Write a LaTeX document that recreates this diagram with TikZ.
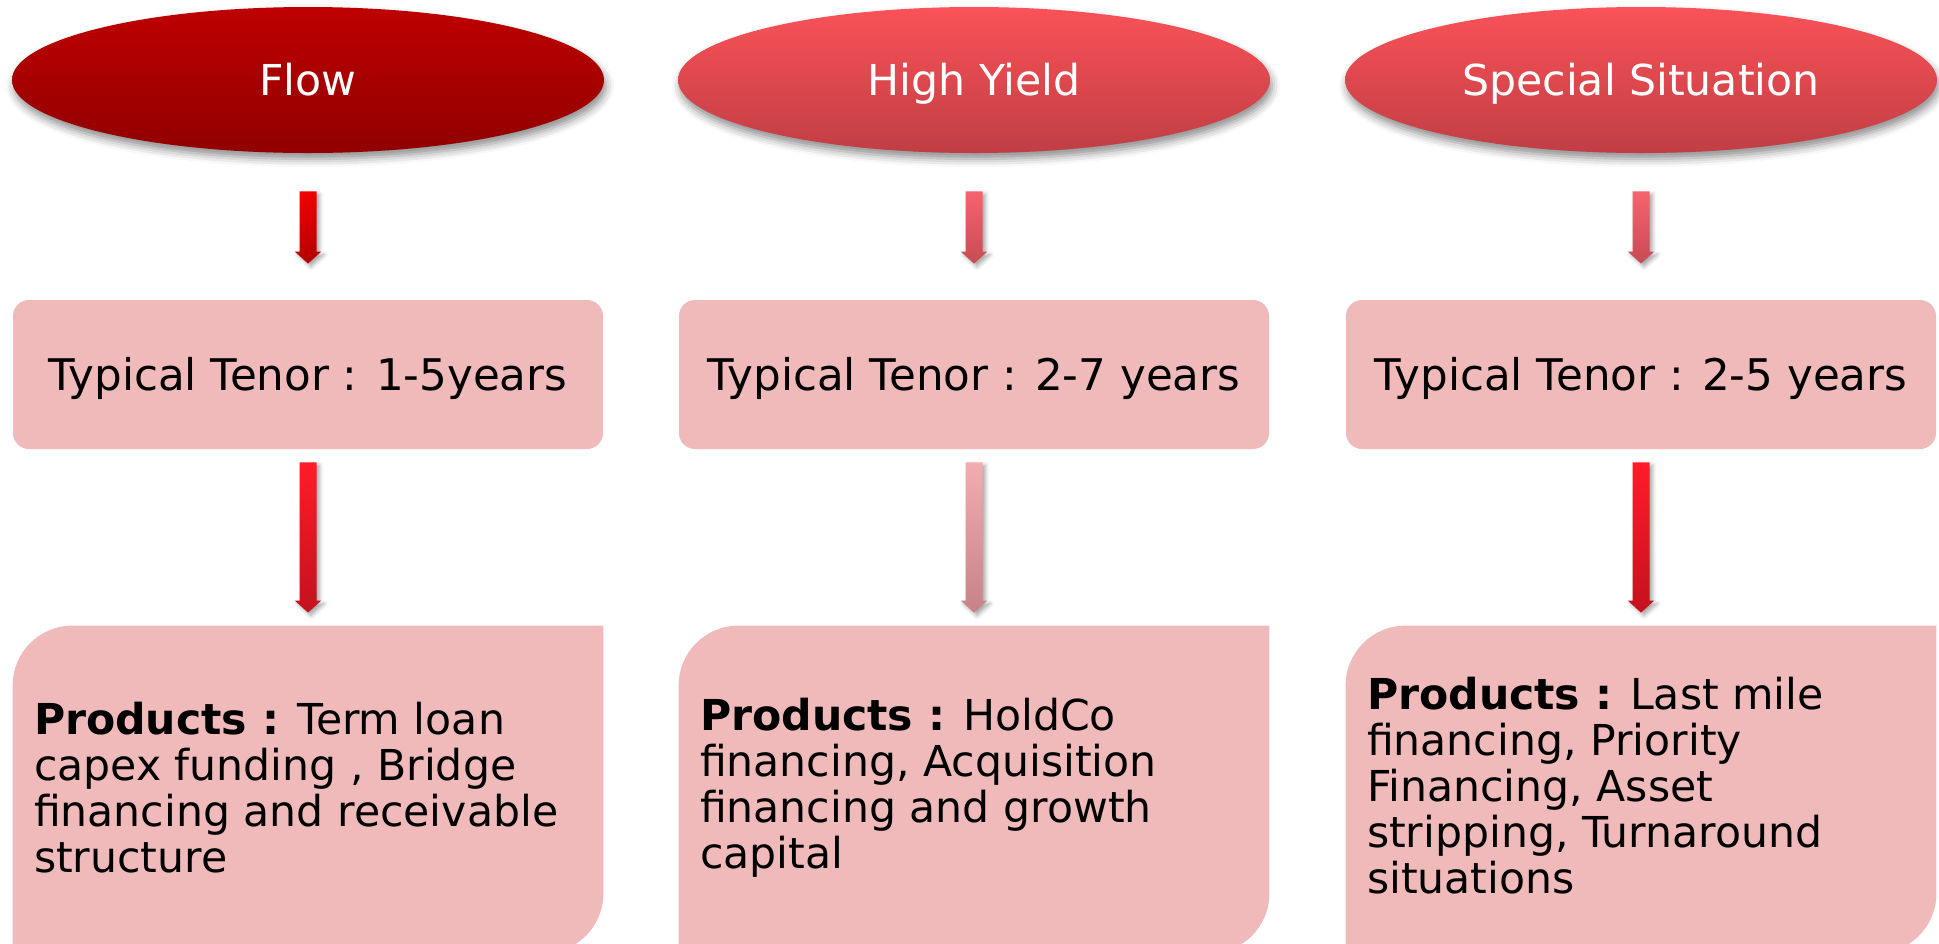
\documentclass[tikz,border=0pt]{standalone}
\usepackage{fontspec}
\setmainfont{DejaVu Sans}
\usetikzlibrary{shapes.geometric,shadows.blur,calc}

\definecolor{boxpink}{RGB}{240,186,186}
\definecolor{flowtop}{RGB}{190,0,0}
\definecolor{flowbot}{RGB}{145,0,0}
\definecolor{softtop}{RGB}{250,82,88}
\definecolor{softbot}{RGB}{192,62,68}
\definecolor{redtop}{RGB}{240,0,0}
\definecolor{redbot}{RGB}{180,0,0}
\definecolor{brighttop}{RGB}{255,28,40}
\definecolor{brightbot}{RGB}{195,18,30}
\definecolor{rosetop}{RGB}{245,100,110}
\definecolor{rosebot}{RGB}{200,75,85}
\definecolor{paletop}{RGB}{245,172,176}
\definecolor{palebot}{RGB}{198,130,136}

\tikzset{
  headline/.style={ellipse, minimum width=296pt, minimum height=73pt, inner sep=0pt,
    text=white, font=\fontsize{21.3}{24}\selectfont, text height=15.5pt, text depth=0pt,
    blur shadow={shadow xshift=1pt, shadow yshift=-3pt, shadow blur radius=4pt, shadow opacity=45}},
  tenorbox/.style={rectangle, rounded corners=8pt, fill=boxpink, minimum width=295pt,
    minimum height=74.5pt, inner ysep=0pt, font=\fontsize{21.8}{24}\selectfont,
    text height=15.9pt, text depth=0pt},
  prodframe/.style={rectangle, minimum width=295pt, minimum height=163.5pt, inner sep=0pt},
  prodtext/.style={anchor=west, align=left, inner sep=0pt, font=\fontsize{21.3}{23}\selectfont},
  arrowshadow/.style={blur shadow={shadow xshift=1.5pt, shadow yshift=-1.5pt,
    shadow blur radius=2pt, shadow opacity=35}}
}

% thick block arrow from #1 (top of shaft) to #2 (tip), shaded #3 -> #4
\newcommand\fatarrow[4]{%
  \path[top color=#3, bottom color=#4, arrowshadow]
    let \p1=(#1), \p2=(#2) in
    (\x1-4.25pt,\y1) -- (\x1+4.25pt,\y1) -- (\x1+4.25pt,\y2+6pt) -- (\x1+6.6pt,\y2+6pt)
    -- (\x1,\y2) -- (\x1-6.6pt,\y2+6pt) -- (\x1-4.25pt,\y2+6pt) -- cycle;}

% product panel: rounded top-left and bottom-right corners, square elsewhere
\newcommand\prodpanel[1]{%
  \fill[boxpink] let \p1=(#1.north west), \p2=(#1.south east) in
    (\x1,\y2) -- (\x1,\y1-30pt) .. controls (\x1,\y1-13.4pt) and (\x1+13.4pt,\y1) .. (\x1+30pt,\y1)
    -- (\x2,\y1) -- (\x2,\y2+30pt) .. controls (\x2,\y2+13.4pt) and (\x2-13.4pt,\y2) .. (\x2-30pt,\y2)
    -- cycle;}

\begin{document}
\begin{tikzpicture}[x=0.5pt,y=-0.5pt]
\useasboundingbox (0,0) rectangle (1939,943);

% headings
\node[headline, top color=flowtop, bottom color=flowbot] (e1) at (308,80) {Flow};
\node[headline, top color=softtop, bottom color=softbot] (e2) at (974,80) {High Yield};
\node[headline, top color=softtop, bottom color=softbot] (e3) at (1641,80) {Special Situation};

% tenor boxes
\node[tenorbox] (t1) at (308,374.5) {Typical Tenor : 1-5years};
\node[tenorbox] (t2) at (974,374.5) {Typical Tenor : 2-7 years};
\node[tenorbox] (t3) at (1641,374.5) {Typical Tenor : 2-5 years};

% product panels
\node[prodframe] (b1) at (308,789.5) {};
\node[prodframe] (b2) at (974,789.5) {};
\node[prodframe] (b3) at (1641,789.5) {};
\prodpanel{b1}
\prodpanel{b2}
\prodpanel{b3}

\node[prodtext] (p1) at ($(b1.west)+(21,-2)$)
  {\textbf{Products :} Term loan\\capex funding , Bridge\\financing and receivable\\structure};
\node[prodtext] (p2) at ($(b2.west)+(21,-2)$)
  {\textbf{Products :} HoldCo\\financing, Acquisition\\financing and growth\\capital};
\node[prodtext] (p3) at ($(b3.west)+(21,-4)$)
  {\textbf{Products :} Last mile\\financing, Priority\\Financing, Asset\\stripping, Turnaround\\situations};

% arrow end points
\foreach \i in {1,2,3}{
  \coordinate (u\i s) at ($(e\i.south)+(0,38)$);
  \coordinate (u\i e) at ($(t\i.north)+(0,-36)$);
  \coordinate (d\i s) at ($(t\i.south)+(0,13)$);
  \coordinate (d\i e) at ($(b\i.north)+(0,-13)$);
}

\fatarrow{u1s}{u1e}{redtop}{redbot}
\fatarrow{u2s}{u2e}{rosetop}{rosebot}
\fatarrow{u3s}{u3e}{rosetop}{rosebot}
\fatarrow{d1s}{d1e}{brighttop}{brightbot}
\fatarrow{d2s}{d2e}{paletop}{palebot}
\fatarrow{d3s}{d3e}{brighttop}{brightbot}
\end{tikzpicture}
\end{document}
